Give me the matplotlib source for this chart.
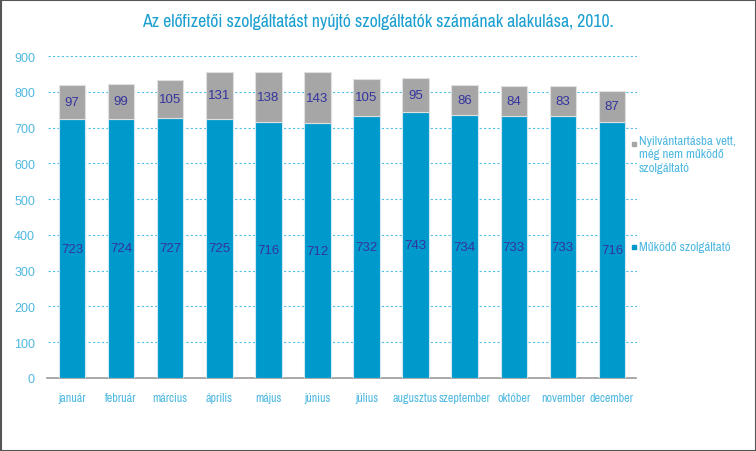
import matplotlib
matplotlib.use("Agg")
import matplotlib.pyplot as plt
import numpy as np

months = ["január", "február", "március", "április", "május", "június",
          "július", "augusztus", "szeptember", "október", "november", "december"]
mukodo = [723, 724, 727, 725, 716, 712, 732, 743, 734, 733, 733, 716]
nyilv = [97, 99, 105, 131, 138, 143, 105, 95, 86, 84, 83, 87]
yticks = [0, 100, 200, 300, 400, 500, 600, 700, 800, 900]

narrow = ["Archivo Narrow", "DejaVu Sans"]
num = ["Liberation Sans", "DejaVu Sans"]
plt.rcParams["font.family"] = narrow

W, H = 756, 452
fig = plt.figure(figsize=(W/100, H/100), dpi=100)
ax = fig.add_axes([47.5/W, 1-379/H, (636.5-47.5)/W, (379-57)/H])

blue = "#0099cc"
gray = "#a6a6a6"
lbl = "#3434a0"
tc = "#4fb8e0"

x = np.arange(len(months))
ax.bar(x, mukodo, width=0.54, color=blue, edgecolor="#cfe8f3", linewidth=0.8, zorder=3,
       label="Működő szolgáltató")
ax.bar(x, nyilv, bottom=mukodo, width=0.54, color=gray, edgecolor="#e0e0e0", linewidth=0.8,
       zorder=3, label="Nyilvántartásba vett,\nmég nem működő\nszolgáltató")

for i in range(len(months)):
    ax.text(x[i], mukodo[i]/2, str(mukodo[i]), ha="center", va="center", color=lbl,
            fontsize=9.5, family=num, zorder=4)
    ax.text(x[i], mukodo[i] + nyilv[i]/2, str(nyilv[i]), ha="center", va="center", color=lbl,
            fontsize=9.5, family=num, zorder=4)

ax.set_xlim(-0.5, len(months)-0.5)
ax.set_ylim(0, 900)
ax.set_yticks(yticks)
ax.set_yticklabels([str(v) for v in yticks], color=tc, fontsize=9, family=num)
ax.set_xticks(x)
ax.set_xticklabels(months, color=tc, fontsize=8.7)
ax.tick_params(axis="both", length=0)
ax.tick_params(axis="y", pad=9)
ax.tick_params(axis="x", pad=10)
for v in yticks[1:]:
    ax.axhline(v, color="#4fc0e8", linestyle=(0, (2, 2)), linewidth=0.8, zorder=1)
for s in ["left", "right", "top"]:
    ax.spines[s].set_visible(False)
ax.spines["bottom"].set_color("#999999")
ax.spines["bottom"].set_linewidth(1.2)

fig.text(378/W, 1-22/H, "Az előfizetői szolgáltatást nyújtó szolgáltatók számának alakulása, 2010.",
         ha="center", va="center", color="#1a9fd0", fontsize=12.8)

# legend
fig.patches.append(plt.Rectangle((632/W, 1-147/H), 4/W, 4/H, transform=fig.transFigure,
                                 color=gray))
fig.text(639/W, 1-136/H, "Nyilvántartásba vett,\nmég nem működő\nszolgáltató", ha="left", va="top",
         color=tc, fontsize=9.3, linespacing=1.25)
fig.patches.append(plt.Rectangle((632/W, 1-250/H), 4/W, 4/H, transform=fig.transFigure,
                                 color=blue))
fig.text(639/W, 1-248/H, "Működő szolgáltató", ha="left", va="center", color=tc, fontsize=9.3)

fig.patches.append(plt.Rectangle((0.5/W, 0.5/H), 1-1/W, 1-1/H, transform=fig.transFigure,
                                 fill=False, edgecolor="#555555", linewidth=1.5))

fig.savefig("out.png", dpi=100)
